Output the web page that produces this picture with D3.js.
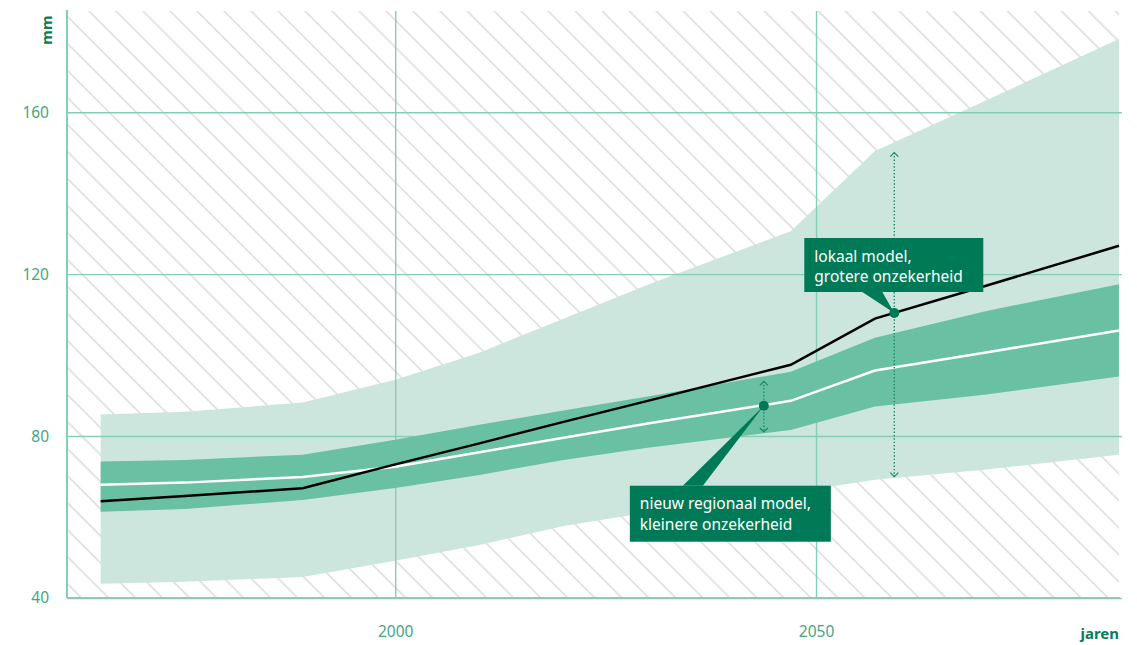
<!DOCTYPE html>
<html>
<head>
<meta charset="utf-8">
<script src="https://cdn.jsdelivr.net/npm/d3@7"></script>
<style>
  body { margin: 0; background: #fff; }
  svg { display: block; font-family: "Noto Sans", sans-serif; }
</style>
</head>
<body>
<div id="chart"></div>
<script>
// DATA
var years        = [1965, 1975, 1989, 2000, 2010, 2020, 2030, 2047, 2057, 2070, 2086];
var localHigh    = [85.3, 86.0, 88.3, 93.9, 100.6, 109.0, 117.4, 130.6, 150.4, 162.7, 178.1];
var localLow     = [43.5, 44.0, 45.2, 49.2, 53.1, 57.8, 61.1, 66.0, 69.2, 71.7, 75.4];
var regionalHigh = [73.7, 74.1, 75.4, 79.1, 82.8, 86.3, 89.8, 95.9, 104.3, 110.8, 117.5];
var regionalLow  = [61.3, 62.0, 64.2, 67.2, 70.4, 74.1, 77.1, 81.5, 87.3, 90.2, 94.7];
var regionalMid  = [68.0, 68.5, 69.9, 72.4, 76.0, 79.6, 83.1, 88.7, 96.2, 100.6, 106.1];
var localMid     = [63.9, 65.2, 67.1, 73.0, 78.2, 83.5, 88.7, 97.6, 109.0, 117.0, 127.0];

var yTicks = [40, 80, 120, 160];
var xTicks = [2000, 2050];
var yLabel = 'mm';
var xLabel = 'jaren';

// annotations: year, value of the dot, range of the arrow, text
var noteYears  = [2059.3, 2043.8];
var noteValues = [110.4, 87.5];
var noteLow    = [70, 81];
var noteHigh   = [150, 93.5];
var noteText   = [['lokaal model,', 'grotere onzekerheid'],
                  ['nieuw regionaal model,', 'kleinere onzekerheid']];

// LAYOUT
var W = 1137, H = 645;
var margin = {top: 11, right: 18, bottom: 47, left: 67};
var w = W - margin.left - margin.right;
var h = H - margin.top - margin.bottom;

var svg = d3.select('#chart').append('svg')
            .attr('width', W)
            .attr('height', H);

var g = svg.append('g')
           .attr('transform', 'translate(' + margin.left + ',' + margin.top + ')');

var x = d3.scaleLinear()
          .domain([1961, 2086])
          .range([0, w]);
var y = d3.scaleLinear()
          .domain([40, 185])
          .range([h, 0]);

// Hatch pattern
var defs = svg.append('defs');
var pat = defs.append('pattern')
              .attr('id', 'hatch')
              .attr('patternUnits', 'userSpaceOnUse')
              .attr('width', 19.1)
              .attr('height', 19.1)
              .attr('patternTransform', 'rotate(-45) translate(6,0)');
pat.append('line')
   .attr('x1', 9.5).attr('y1', 0)
   .attr('x2', 9.5).attr('y2', 19.1)
   .style('stroke', '#dadada')
   .style('stroke-width', 1.5);

g.append('rect')
 .attr('width', w)
 .attr('height', h)
 .style('fill', 'url(#hatch)');

// Bands and lines
var idx = d3.range(years.length);
function band(lo, hi) {
    return d3.area()
             .x(function(i) { return x(years[i]); })
             .y0(function(i) { return y(lo[i]); })
             .y1(function(i) { return y(hi[i]); })(idx);
}
function line(vals) {
    return d3.line()
             .x(function(i) { return x(years[i]); })
             .y(function(i) { return y(vals[i]); })(idx);
}

g.append('path')
 .attr('d', band(localLow, localHigh))
 .style('fill', '#cce6de');

// Grid
g.append('g')
 .call(d3.axisLeft(y).tickValues(yTicks).tickSize(-(w + 3)).tickPadding(18));
g.append('g')
 .attr('transform', 'translate(0,' + h + ')')
 .call(d3.axisBottom(x).tickValues(xTicks).tickSize(-h).tickPadding(28).tickFormat(d3.format('d')));
g.selectAll('.domain').remove();
g.selectAll('.tick line')
 .style('stroke', '#86cdb3')
 .style('stroke-width', 1.4);
g.selectAll('.tick text')
 .style('fill', '#45a681')
 .style('font-size', '15.5px')
 .style('font-family', '"Noto Sans", sans-serif');

g.append('path')
 .attr('d', band(regionalLow, regionalHigh))
 .style('fill', '#69c0a2');

g.append('path')
 .attr('d', line(regionalMid))
 .style('fill', 'none')
 .style('stroke', '#fff')
 .style('stroke-width', '2.5px');

g.append('path')
 .attr('d', line(localMid))
 .style('fill', 'none')
 .style('stroke', '#000')
 .style('stroke-width', '2.5px');

// Axis lines
g.append('line')
 .attr('x1', 0).attr('x2', 0)
 .attr('y1', -1).attr('y2', h)
 .style('stroke', '#86cdb3').style('stroke-width', 2);
g.append('line')
 .attr('x1', 0).attr('x2', w + 1)
 .attr('y1', h).attr('y2', h)
 .style('stroke', '#86cdb3').style('stroke-width', 2);

// Axis titles
svg.append('text')
   .attr('transform', 'translate(52,30) rotate(-90)')
   .attr('text-anchor', 'middle')
   .style('font-size', '15px')
   .style('font-weight', 'bold')
   .style('fill', '#0b7b57')
   .text(yLabel);
svg.append('text')
   .attr('x', margin.left + w)
   .attr('y', 639)
   .attr('text-anchor', 'end')
   .style('font-size', '15px')
   .style('font-weight', 'bold')
   .style('fill', '#0b7b57')
   .text(xLabel);

// Annotations
var boxLayout = [
    {dx: -90, dy: -75, bw: 179, bh: 54, p0: -32, p1: -12, below: false},
    {dx: -134, dy: 80, bw: 201, bh: 56, p0: -81, p1: -61, below: true}
];
var noteColor = '#007a56';

noteYears.forEach(function(yr, i) {
    var cx = x(yr), cy = y(noteValues[i]);
    var lay = boxLayout[i];
    var yTop = y(noteHigh[i]), yBot = y(noteLow[i]);

    // dotted range
    g.append('line')
     .attr('x1', cx).attr('x2', cx)
     .attr('y1', yTop).attr('y2', yBot)
     .style('stroke', '#1b8a64')
     .style('stroke-width', 1.4)
     .style('stroke-dasharray', '1.4,2');
    g.append('path')
     .attr('d', 'M' + (cx - 4) + ',' + (yTop + 4) + 'L' + cx + ',' + yTop + 'L' + (cx + 4) + ',' + (yTop + 4))
     .style('fill', 'none').style('stroke', '#1b8a64').style('stroke-width', 1.2);
    g.append('path')
     .attr('d', 'M' + (cx - 4) + ',' + (yBot - 4) + 'L' + cx + ',' + yBot + 'L' + (cx + 4) + ',' + (yBot - 4))
     .style('fill', 'none').style('stroke', '#1b8a64').style('stroke-width', 1.2);

    // pointer
    var by = lay.below ? cy + lay.dy : cy + lay.dy + lay.bh;
    g.append('path')
     .attr('d', 'M' + (cx + lay.p0) + ',' + by + 'L' + cx + ',' + cy + 'L' + (cx + lay.p1) + ',' + by + 'Z')
     .style('fill', noteColor);

    g.append('circle')
     .attr('cx', cx).attr('cy', cy)
     .attr('r', 5)
     .style('fill', noteColor);

    g.append('rect')
     .attr('x', cx + lay.dx)
     .attr('y', cy + lay.dy)
     .attr('width', lay.bw)
     .attr('height', lay.bh)
     .style('fill', noteColor);

    var t = g.append('text')
             .attr('x', cx + lay.dx + 10)
             .attr('y', cy + lay.dy + 23.5)
             .style('fill', '#fff')
             .style('font-size', '15.5px');
    noteText[i].forEach(function(s, j) {
        t.append('tspan')
         .attr('x', cx + lay.dx + 10)
         .attr('dy', j === 0 ? 0 : 20.5)
         .text(s);
    });
});
</script>
</body>
</html>
